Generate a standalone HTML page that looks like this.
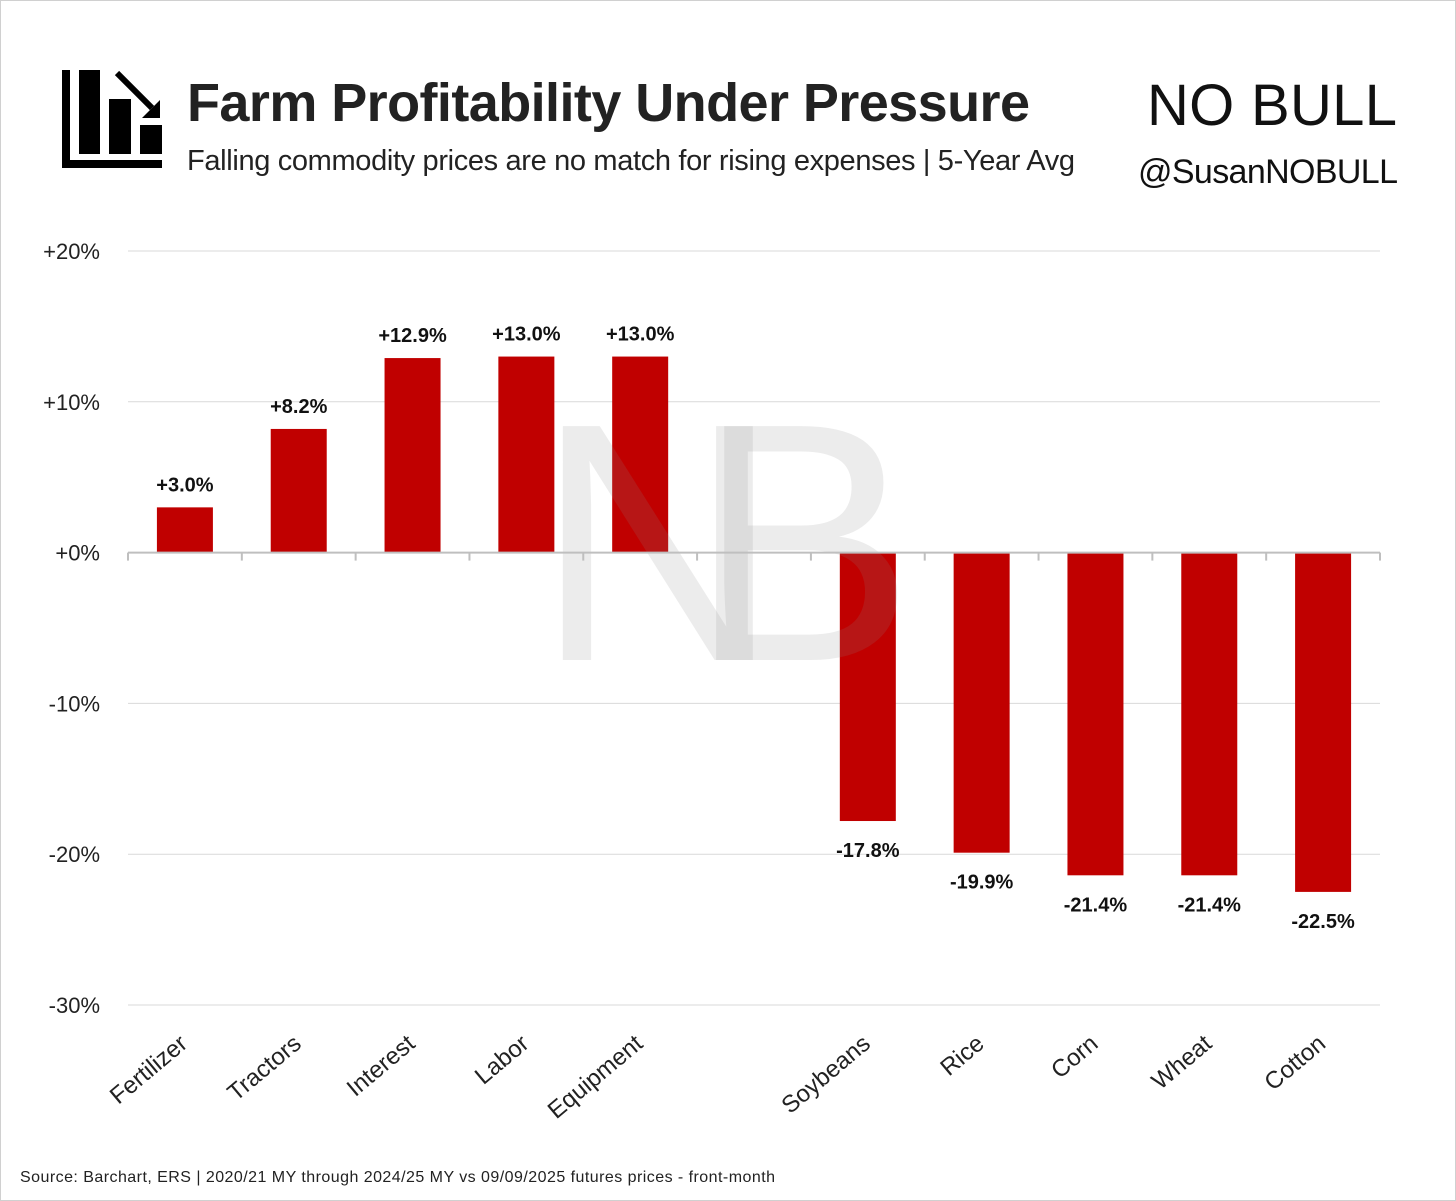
<!DOCTYPE html>
<html><head><meta charset="utf-8"><style>
html,body{margin:0;padding:0;background:#fff}
svg{display:block;font-family:"Liberation Sans",sans-serif}
</style></head><body>
<svg id="chart" width="1456" height="1201" viewBox="0 0 1456 1201">
<rect x="0.5" y="0.5" width="1455" height="1200" fill="#fff" stroke="#d0d0d0"/>
<g>
<rect x="62" y="70" width="8" height="98" fill="#000"/>
<rect x="62" y="160" width="100" height="8" fill="#000"/>
<rect x="79" y="70" width="21" height="84" fill="#000"/>
<rect x="109" y="99" width="22" height="55" fill="#000"/>
<rect x="140" y="125" width="22" height="29" fill="#000"/>
<line x1="117" y1="73" x2="152" y2="108" stroke="#000" stroke-width="6"/>
<polygon points="160,100 160,118 142,118" fill="#000"/>
</g>
<text x="187" y="121" font-size="54" font-weight="bold" fill="#222" textLength="843">Farm Profitability Under Pressure</text>
<text x="187" y="170" font-size="29" fill="#222" textLength="888">Falling commodity prices are no match for rising expenses | 5-Year Avg</text>
<text x="1147" y="125" font-size="58" fill="#111" textLength="250">NO BULL</text>
<text x="1138" y="183" font-size="34" fill="#111" textLength="260">@SusanNOBULL</text>
<g id="grid"></g>
<g id="bars"></g>
<text x="535" y="660" font-size="340" fill="#888" fill-opacity="0.16" textLength="380">NB</text>
<g id="labels"></g>
<text x="20" y="1182" font-size="16" fill="#222" textLength="755">Source: Barchart, ERS | 2020/21 MY through 2024/25 MY vs 09/09/2025 futures prices - front-month</text>
<script>
const categories=["Fertilizer","Tractors","Interest","Labor","Equipment","","Soybeans","Rice","Corn","Wheat","Cotton"];
const values=[3.0,8.2,12.9,13.0,13.0,null,-17.8,-19.9,-21.4,-21.4,-22.5];
const valueLabels=["+3.0%","+8.2%","+12.9%","+13.0%","+13.0%","","-17.8%","-19.9%","-21.4%","-21.4%","-22.5%"];
const yTicks=[20,10,0,-10,-20,-30];
const yTickLabels=["+20%","+10%","+0%","-10%","-20%","-30%"];
const NS="http://www.w3.org/2000/svg";
const x0=128,x1=1380,yTop=251,yBot=1005;
const slot=(x1-x0)/categories.length;
function y(v){return yTop+(20-v)/50*(yBot-yTop);}
function xc(i){return x0+slot*(i+0.5);}
function mk(tag,attrs,parent,txt){const e=document.createElementNS(NS,tag);for(const k in attrs)e.setAttribute(k,attrs[k]);if(txt!==undefined)e.textContent=txt;document.getElementById(parent).appendChild(e);return e;}
yTicks.forEach((t,i)=>{
 if(t!==0){const g=mk("line",{x1:x0,x2:x1,y1:y(t),y2:y(t),stroke:"#d9d9d9","stroke-width":1},"grid");
 
 }
 const l=mk("text",{x:100,y:y(t)+8,"font-size":22,"text-anchor":"end",fill:"#222"},"grid",yTickLabels[i]);
 
 
});
values.forEach((v,i)=>{
 if(v===null)return;
 const top=Math.min(y(v),y(0)),h=Math.abs(y(v)-y(0));
 const b=mk("rect",{x:xc(i)-28,y:top,width:56,height:h,fill:"#c00000"},"bars");
 
 
 const ly=v>=0?y(v)-16:y(v)+36;
 const t=mk("text",{x:xc(i),y:ly,"font-size":20,"font-weight":"bold","text-anchor":"middle",fill:"#111"},"labels",valueLabels[i]);
 
 
 const c=mk("text",{x:0,y:0,"font-size":24,"text-anchor":"end",fill:"#222",transform:"translate("+(xc(i)+4)+",1046) rotate(-40)"},"labels",categories[i]);
 
 
});
const ax=mk("line",{x1:x0,x2:x1,y1:y(0),y2:y(0),stroke:"#bfbfbf","stroke-width":2},"labels");


for(let i=0;i<=categories.length;i++){
 const tk=mk("line",{x1:x0+slot*i,x2:x0+slot*i,y1:y(0),y2:y(0)+8,stroke:"#bfbfbf","stroke-width":2},"labels");
 
 
}
</script>
</svg>
</body></html>
